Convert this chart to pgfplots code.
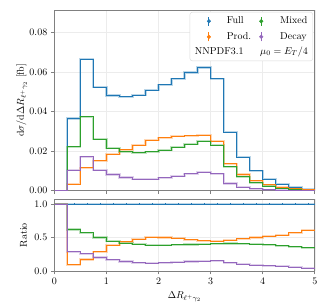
\documentclass[border=0pt]{standalone}
\usepackage{pgfplots}
\usepackage{pgfplotstable}
\pgfplotsset{compat=1.18}
\definecolor{cF}{HTML}{1F77B4}
\definecolor{cP}{HTML}{FF7F0E}
\definecolor{cM}{HTML}{2CA02C}
\definecolor{cD}{HTML}{9467BD}

\pgfplotstableread{
x full prod mixed decay
0 0 0 0 0
0.25 0.0365 0.0034 0.0222 0.0104
0.5 0.0665 0.0116 0.0374 0.0172
0.75 0.0522 0.0152 0.0260 0.0104
1.0 0.0481 0.0184 0.0215 0.0082
1.25 0.0475 0.0207 0.0197 0.0067
1.5 0.0483 0.0230 0.0192 0.0059
1.75 0.0508 0.0255 0.0197 0.0059
2.0 0.0535 0.0268 0.0205 0.0066
2.25 0.0565 0.0275 0.0221 0.0073
2.5 0.0597 0.0278 0.0236 0.0085
2.75 0.0622 0.0280 0.0250 0.0093
3.0 0.0565 0.0250 0.0231 0.0085
3.25 0.0295 0.0136 0.0121 0.0036
3.5 0.0170 0.0082 0.0070 0.0017
3.75 0.0100 0.0050 0.0040 0.0009
4.0 0.0058 0.0030 0.0022 0.0005
4.25 0.0032 0.0017 0.0012 0.00022
4.5 0.0016 0.0009 0.0006 0.00009
4.75 0.0007 0.0004 0.00025 0.00003
5.0 0.0007 0.0004 0.00025 0.00003
}\topdata

\pgfplotstableread{
x full prod mixed decay
0 1 1 1 1
0.25 1 0.093 0.620 0.285
0.5 1 0.172 0.570 0.259
0.75 1 0.285 0.500 0.200
1.0 1 0.383 0.448 0.170
1.25 1 0.436 0.415 0.141
1.5 1 0.476 0.398 0.122
1.75 1 0.502 0.388 0.116
2.0 1 0.501 0.383 0.123
2.25 1 0.487 0.390 0.129
2.5 1 0.466 0.395 0.142
2.75 1 0.450 0.401 0.149
3.0 1 0.442 0.408 0.150
3.25 1 0.461 0.410 0.122
3.5 1 0.482 0.408 0.100
3.75 1 0.500 0.403 0.090
4.0 1 0.517 0.390 0.080
4.25 1 0.535 0.375 0.069
4.5 1 0.568 0.362 0.056
4.75 1 0.610 0.345 0.045
5.0 1 0.610 0.345 0.045
}\ratiodata

\pgfplotsset{
  common/.style={
    scale only axis, width=260.5pt,
    xmin=0, xmax=5, xtick={0,1,2,3,4,5},
    tick align=outside, tick pos=left,
    major tick length=3.5pt,
    grid=major, major grid style={gray!15, line width=0.5pt},
    axis line style={gray, line width=0.8pt},
    tick style={gray, line width=0.8pt},
    ticklabel style={black},
    every axis plot/.append style={line join=miter},
  },
  band/.style={const plot, #1, opacity=0.3, line width=2.2pt, forget plot},
  main/.style={const plot, #1, line width=0.9pt, forget plot},
  legL/.style={legend image code/.code={
    \path[draw=none, fill=none] (0pt,-5pt) rectangle (32pt,5pt);
    \draw[##1, line width=0.9pt] (14pt,-4.6pt) -- (14pt,4.6pt);
    \fill[##1] (14pt,0pt) circle (1.8pt);}},
  legR/.style={legend image code/.code={
    \path[draw=none, fill=none] (0pt,-5pt) rectangle (29pt,5pt);
    \draw[##1, line width=0.9pt] (10pt,-4.6pt) -- (10pt,4.6pt);
    \fill[##1] (10pt,0pt) circle (1.8pt);}},
}

\begin{document}
\begin{tikzpicture}
\path[use as bounding box] (0,0) rectangle (332pt,305pt);

\begin{axis}[common,
  at={(54.3pt,114.3pt)}, anchor=south west, height=180.7pt,
  ymin=0, ymax=0.0913,
  ytick={0,0.02,0.04,0.06,0.08},
  scaled y ticks=false,
  yticklabel style={/pgf/number format/.cd, fixed, fixed zerofill, precision=2},
  xticklabels={},
  ylabel={$\mathrm{d}\sigma/\mathrm{d}\Delta R_{\ell^+\gamma_2}$ [fb]},
  ylabel style={at={(axis description cs:-0.0906,0.5)}, anchor=south},
  legend columns=2,
  legend cell align=left,
  legend style={at={(rel axis cs:0.993,0.989)}, anchor=north east,
    draw=gray!30, rounded corners=2.5pt, fill=white,
    inner xsep=5pt, inner ysep=4pt,
    column sep=0pt, row sep=5.5pt,
    nodes={inner sep=0pt, text height=7pt, text depth=2.5pt}},
]
\addplot[band=cF] table[y=full]{\topdata};
\addplot[band=cP] table[y=prod]{\topdata};
\addplot[band=cM] table[y=mixed]{\topdata};
\addplot[band=cD] table[y=decay]{\topdata};
\addplot[main=cF] table[y=full]{\topdata};
\addplot[main=cP] table[y=prod]{\topdata};
\addplot[main=cM] table[y=mixed]{\topdata};
\addplot[main=cD] table[y=decay]{\topdata};
\addlegendimage{cF, legL}\addlegendentry{Full}
\addlegendimage{cM, legR}\addlegendentry{Mixed}
\addlegendimage{cP, legL}\addlegendentry{Prod.}
\addlegendimage{cD, legR}\addlegendentry{Decay}
\addlegendimage{empty legend}\addlegendentry{\hspace*{-32pt}NNPDF3.1}
\addlegendimage{empty legend}\addlegendentry{\hspace*{-20pt}$\mu_0 = E_T/4$}
\end{axis}

\begin{axis}[common,
  at={(54.3pt,34pt)}, anchor=south west, height=71.7pt,
  ymin=0, ymax=1.07,
  ytick={0,0.5,1},
  yticklabel style={/pgf/number format/.cd, fixed, fixed zerofill, precision=1},
  ylabel={Ratio},
  ylabel style={at={(axis description cs:-0.0906,0.5)}, anchor=south},
  xlabel={$\Delta R_{\ell^+\gamma_2}$},
]
\addplot[band=cF] table[y=full]{\ratiodata};
\addplot[band=cP] table[y=prod]{\ratiodata};
\addplot[band=cM] table[y=mixed]{\ratiodata};
\addplot[band=cD] table[y=decay]{\ratiodata};
\addplot[main=cF] table[y=full]{\ratiodata};
\addplot[main=cP] table[y=prod]{\ratiodata};
\addplot[main=cM] table[y=mixed]{\ratiodata};
\addplot[main=cD] table[y=decay]{\ratiodata};
\addplot[cF, only marks, mark=|, mark size=1.2pt, line width=0.6pt, forget plot] coordinates {
(0.375,1) (0.625,1) (0.875,1) (1.125,1) (1.375,1) (1.625,1) (1.875,1) (2.125,1) (2.375,1) (2.625,1)
(2.875,1) (3.125,1) (3.375,1) (3.625,1) (3.875,1) (4.125,1) (4.375,1) (4.625,1) (4.875,1)};
\end{axis}
\end{tikzpicture}
\end{document}
